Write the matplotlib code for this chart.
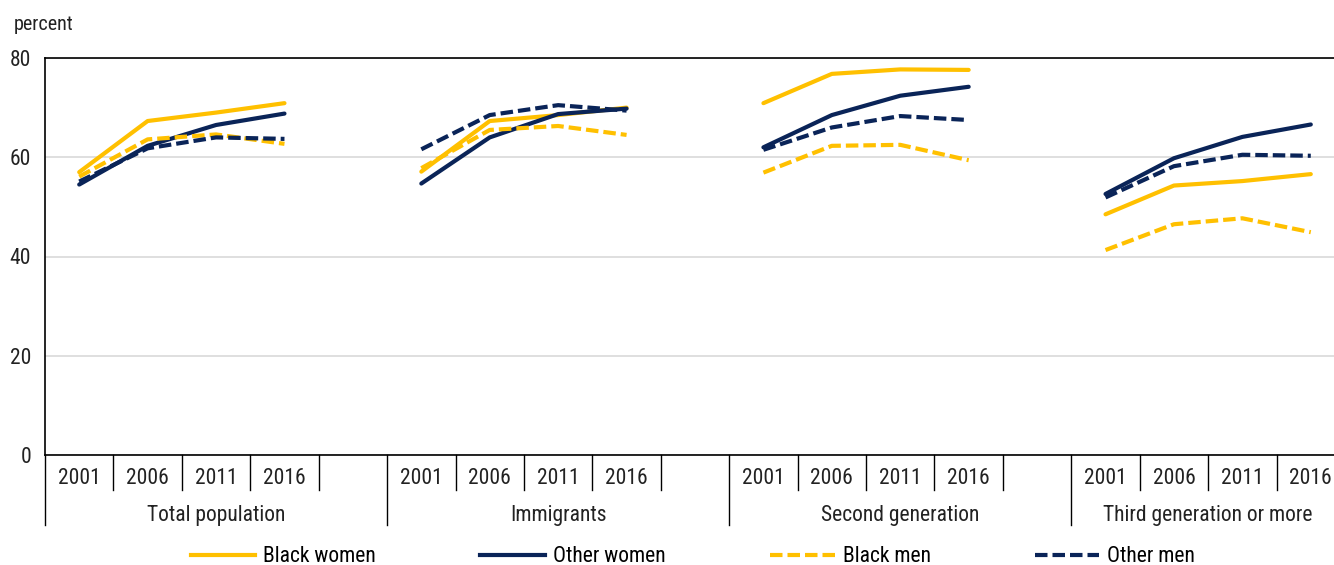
import matplotlib
matplotlib.use("Agg")
import matplotlib.pyplot as plt
import matplotlib.transforms as mtransforms
from matplotlib.lines import Line2D
from matplotlib import font_manager

avail = {f.name for f in font_manager.fontManager.ttflist}
fam = [f for f in ["Liberation Sans Narrow", "Roboto Condensed", "Liberation Sans"] if f in avail] + ["DejaVu Sans"]
plt.rcParams['font.family'] = fam

# ---- data ----
years = ["2001", "2006", "2011", "2016"]
groups = ["Total population", "Immigrants", "Second generation", "Third generation or more"]

black_women = [[57.0, 67.3, 69.0, 70.9],
               [57.1, 67.3, 68.5, 70.0],
               [70.9, 76.8, 77.7, 77.6],
               [48.5, 54.3, 55.2, 56.6]]
other_women = [[54.5, 62.3, 66.5, 68.8],
               [54.7, 64.0, 68.7, 69.8],
               [62.0, 68.5, 72.4, 74.2],
               [52.6, 59.8, 64.1, 66.6]]
black_men = [[56.1, 63.6, 64.6, 62.7],
             [57.8, 65.5, 66.3, 64.5],
             [56.9, 62.3, 62.5, 59.4],
             [41.3, 46.5, 47.7, 44.9]]
other_men = [[55.1, 61.8, 64.0, 63.7],
             [61.6, 68.5, 70.5, 69.4],
             [61.5, 66.0, 68.3, 67.5],
             [51.9, 58.2, 60.5, 60.3]]

series_names = ["Black women", "Other women", "Black men", "Other men"]
yticks = [0, 20, 40, 60, 80]

YELLOW = "#FFC000"
NAVY = "#0A2458"
DASH = (0, (3, 1.2))
styles = [
    dict(color=YELLOW, ls="-"),
    dict(color=NAVY, ls="-"),
    dict(color=YELLOW, ls=DASH),
    dict(color=NAVY, ls=DASH),
]
series = [black_women, other_women, black_men, other_men]

FS = 15.5
TXT = "#222222"
W, H = 1334, 565
fig = plt.figure(figsize=(W / 100, H / 100), dpi=100)
left_px, right_px, top_px, bottom_px = 45, 1345, 58, 455
ax = fig.add_axes([left_px / W, 1 - bottom_px / H, (right_px - left_px) / W, (bottom_px - top_px) / H])

slot = 5
nslots = slot * len(groups) - 1
for s, st in zip(series, styles):
    for g in range(len(groups)):
        xs = [g * slot + i for i in range(len(years))]
        ax.plot(xs, s[g], lw=3, solid_capstyle="round", dash_capstyle="butt", **st)

ax.set_xlim(-0.5, nslots - 0.5)
ax.set_ylim(0, 80)
ax.set_yticks(yticks)
ax.set_yticklabels([str(v) for v in yticks], fontsize=FS, color=TXT)
ax.tick_params(axis="y", length=0, pad=10)
ax.set_xticks([])
ax.grid(axis="y", color="#D9D9D9", lw=1.2)
ax.set_axisbelow(True)
for sp in ["left", "bottom", "top"]:
    ax.spines[sp].set_color("black")
    ax.spines[sp].set_linewidth(1.2)
ax.spines["right"].set_visible(False)

# category axis
trans = mtransforms.blended_transform_factory(ax.transData, fig.transFigure)
y_axis = 1 - bottom_px / H
y_short = 1 - 490 / H
y_long = 1 - 525 / H
y_year = 1 - 479 / H
y_group = 1 - 515 / H
for g, name in enumerate(groups):
    start = g * slot - 0.5
    ax.add_line(Line2D([start, start], [y_axis, y_long], transform=trans, color="black", lw=1, clip_on=False))
    for i, yr in enumerate(years):
        x = g * slot + i
        ax.text(x, y_year, yr, transform=trans, ha="center", va="center", fontsize=FS, color=TXT)
        if not (g == len(groups) - 1 and i == len(years) - 1):
            ax.add_line(Line2D([x + 0.5, x + 0.5], [y_axis, y_short], transform=trans, color="black", lw=1, clip_on=False))
    end = min(g * slot + slot - 0.5, nslots - 0.5)
    ax.text((start + end) / 2, y_group, name, transform=trans, ha="center", va="center", fontsize=FS, color=TXT)

fig.text(14 / W, 1 - 25 / H, "percent", ha="left", va="center", fontsize=FS - 1, color=TXT)

handles = [Line2D([], [], lw=3, **st) for st in styles]
fig.legend(handles, series_names, loc="center", bbox_to_anchor=(693 / W, 1 - 557 / H), ncol=4,
           frameon=False, fontsize=FS, handlelength=3.0, handletextpad=0.37, columnspacing=4.85,
           borderaxespad=0, borderpad=0)

fig.savefig("out.png", dpi=100)
